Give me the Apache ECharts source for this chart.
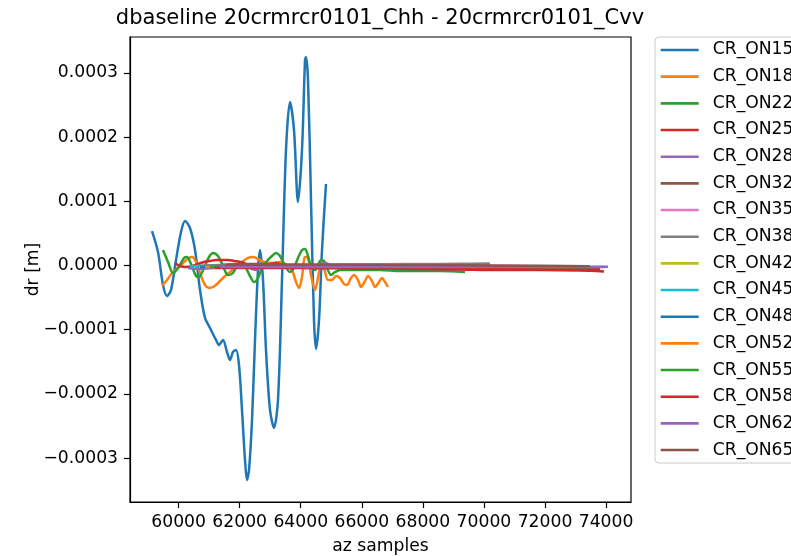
<!DOCTYPE html>
<html>
<head>
<meta charset="utf-8">
<script src="https://cdn.jsdelivr.net/npm/echarts@6/dist/echarts.min.js"></script>
<style>html,body{margin:0;padding:0;background:#fff;overflow:hidden}#c{width:791px;height:556px}</style>
</head>
<body>
<div id="c"></div>
<script>
const titleText = 'dbaseline 20crmrcr0101_Chh - 20crmrcr0101_Cvv';
const xName = 'az samples';
const yName = 'dr [m]';
const xTicks = [60000, 62000, 64000, 66000, 68000, 70000, 72000, 74000];
const yTicks = [-0.0003, -0.0002, -0.0001, 0, 0.0001, 0.0002, 0.0003];
const seriesNames = ['CR_ON15','CR_ON18','CR_ON22','CR_ON25','CR_ON28','CR_ON32','CR_ON35','CR_ON38','CR_ON42','CR_ON45','CR_ON48','CR_ON52','CR_ON55','CR_ON58','CR_ON62','CR_ON65'];
const colors = ['#1f77b4','#ff7f0e','#2ca02c','#d62728','#9467bd','#8c564b','#e377c2','#7f7f7f','#bcbd22','#17becf','#1f77b4','#ff7f0e','#2ca02c','#d62728','#9467bd','#8c564b'];

const x_on15 = [59129,59325,59489,59620,59751,59915,60079,60210,60373,60537,60701,60865,61028,61225,61323,61454,61585,61683,61782,61880,61978,62076,62175,62240,62306,62404,62502,62600,62666,62764,62862,62993,63124,63255,63386,63517,63648,63779,63910,64041,64140,64172,64238,64336,64434,64500,64598,64696,64827];
const y_on15 = [53.7e-6,21.0e-6,-30.4e-6,-47.5e-6,-38.2e-6,8.6e-6,52.2e-6,69.3e-6,58.4e-6,24.1e-6,-38.2e-6,-81.8e-6,-97.4e-6,-116.0e-6,-123.8e-6,-116.0e-6,-134.7e-6,-147.2e-6,-134.7e-6,-131.6e-6,-155.0e-6,-225.1e-6,-303.0e-6,-334.1e-6,-318.5e-6,-240.7e-6,-116.0e-6,-7.0e-6,24.1e-6,-22.6e-6,-131.6e-6,-225.1e-6,-253.1e-6,-209.5e-6,-22.6e-6,179.9e-6,254.7e-6,211.1e-6,98.9e-6,179.9e-6,320.1e-6,324.8e-6,288.9e-6,102.0e-6,-84.9e-6,-130.1e-6,-84.9e-6,24.1e-6,126.9e-6];

const x_on18 = [59456,59620,59784,59980,60177,60341,60439,60570,60734,60865,60996,61127,61290,61487,61683,61880,62076,62273,62437,62600,62797,63059,63321,63550,63714,63845,63943,64041,64140,64238,64336,64467,64565,64664,64762,64893,65024,65155,65286,65417,65515,65646,65744,65875,65974,66105,66203,66334,66432,66563,66661,66760,66858];
const y_on18 = [-31.9e-6,-22.6e-6,-11.7e-6,-3.9e-6,5.5e-6,11.7e-6,13.2e-6,5.5e-6,-16.4e-6,-30.4e-6,-35.0e-6,-33.5e-6,-27.3e-6,-17.9e-6,-10.1e-6,-2.3e-6,5.5e-6,11.7e-6,13.2e-6,10.1e-6,5.5e-6,3.9e-6,5.5e-6,0.8e-6,-7.0e-6,-25.7e-6,-35.0e-6,-17.9e-6,13.2e-6,11.7e-6,-14.8e-6,-38.2e-6,-19.5e-6,5.5e-6,-3.9e-6,-22.6e-6,-22.6e-6,-16.4e-6,-19.5e-6,-28.8e-6,-30.4e-6,-19.5e-6,-14.8e-6,-22.6e-6,-33.5e-6,-24.1e-6,-16.4e-6,-24.1e-6,-33.5e-6,-25.7e-6,-19.5e-6,-25.7e-6,-33.5e-6];

const x_on22 = [59489,59653,59817,59980,60177,60275,60406,60570,60668,60832,60996,61127,61290,61454,61618,61782,61945,62076,62207,62338,62469,62600,62731,62895,63059,63190,63321,63485,63648,63779,63910,64041,64140,64238,64336,64467,64565,64664,64762,64860,64991,65122,65286,65613,66105,66596,67251,67906,68561,69380];
const y_on22 = [24.1e-6,5.5e-6,-11.7e-6,-3.9e-6,11.7e-6,13.2e-6,2.3e-6,-16.4e-6,-17.9e-6,-3.9e-6,13.2e-6,19.5e-6,14.8e-6,-0.8e-6,-14.8e-6,-11.7e-6,2.3e-6,5.5e-6,-3.9e-6,-16.4e-6,-25.7e-6,-19.5e-6,-3.9e-6,7.0e-6,14.8e-6,19.5e-6,14.8e-6,-0.8e-6,-10.1e-6,-3.9e-6,11.7e-6,24.1e-6,25.7e-6,14.8e-6,-0.8e-6,-7.0e-6,0.8e-6,8.6e-6,7.0e-6,-3.9e-6,-14.8e-6,-10.1e-6,-7.0e-6,-7.0e-6,-7.0e-6,-7.0e-6,-8.6e-6,-8.6e-6,-8.6e-6,-10.1e-6];

const x_on25 = [59882,60046,60242,60439,60635,60832,61028,61225,61421,61618,61814,62011,62207,62404,62600,62797,62993,63190,63386,63583,63779,63976,64172,64369,64631,65286,66596,67906,69216,70526,71836,73146,73932];
const y_on25 = [3.9e-6,-0.8e-6,-2.3e-6,-0.8e-6,2.3e-6,5.5e-6,7.0e-6,8.6e-6,8.6e-6,8.6e-6,7.0e-6,5.5e-6,2.3e-6,-0.8e-6,-0.8e-6,0.8e-6,2.3e-6,3.9e-6,0.8e-6,-3.9e-6,-3.9e-6,0.8e-6,0.8e-6,-2.3e-6,-3.9e-6,-3.9e-6,-4.7e-6,-5.5e-6,-6.2e-6,-7.0e-6,-7.0e-6,-7.8e-6,-9.3e-6];

const x_on28 = [60308,60701,61192,61683,62175,62404,62535,62731,63157,63648,64303,64631,64827,65024,65450,67251,68888,70526,72491,74063];
const y_on28 = [-3.9e-6,-5.5e-6,-3.9e-6,-2.3e-6,-2.3e-6,-5.5e-6,-7.0e-6,-3.9e-6,-2.3e-6,-2.3e-6,-3.9e-6,2.3e-6,3.9e-6,-0.8e-6,-2.3e-6,-2.3e-6,-2.3e-6,-2.3e-6,-2.3e-6,-2.0e-6];

const x_on32 = [60570,61356,62011,62666,63321,63976,64631,65286,65941,66596,67906,69216,70526,71836,73146,73801];
const y_on32 = [-0.8e-6,0.8e-6,2.3e-6,2.3e-6,0.8e-6,-0.8e-6,0.8e-6,0.8e-6,0.8e-6,0.0e-6,-0.8e-6,-0.8e-6,-1.6e-6,-2.3e-6,-3.1e-6,-3.9e-6];

const x_on35 = [60701,62666,64631,66596,68561,69380];
const y_on35 = [-0.8e-6,-0.5e-6,0.8e-6,2.0e-6,2.3e-6,2.3e-6];

const x_on38 = [60865,63976,67251,70195];
const y_on38 = [-0.5e-6,0.5e-6,1.5e-6,3.0e-6];

const x_on42 = [61028,63976,67251,69871];
const y_on42 = [-2.3e-6,-0.8e-6,-0.8e-6,-1.0e-6];

const x_on45 = [60373,61028,62011,63321,64960,67906,71181];
const y_on45 = [-0.8e-6,-0.8e-6,-2.3e-6,-0.8e-6,-0.8e-6,-0.8e-6,-2.0e-6];

const x_on48 = [60701,62666,64960,68888,72491];
const y_on48 = [-2.3e-6,-0.8e-6,-0.8e-6,-2.3e-6,-2.3e-6];

const x_on52 = [60865,63321,65941,69544,72819];
const y_on52 = [-2.3e-6,-2.3e-6,-2.3e-6,-3.1e-6,-3.9e-6];

const x_on55 = [61028,63648,66596,70526,73474];
const y_on55 = [-2.3e-6,-2.3e-6,-2.3e-6,-3.9e-6,-3.9e-6];

const x_on58 = [61192,63976,67251,70526,73801];
const y_on58 = [-3.9e-6,-3.9e-6,-4.7e-6,-5.5e-6,-7.0e-6];

const x_on62 = [61356,64631,67906,71181,73965];
const y_on62 = [-2.3e-6,-2.3e-6,-2.3e-6,-2.3e-6,-2.3e-6];

const x_on65 = [61521,63976,67251,70526,73474];
const y_on65 = [0.8e-6,1.6e-6,0.8e-6,0.0e-6,-1.0e-6];

const xs = [x_on15,x_on18,x_on22,x_on25,x_on28,x_on32,x_on35,x_on38,x_on42,x_on45,x_on48,x_on52,x_on55,x_on58,x_on62,x_on65];
const ys = [y_on15,y_on18,y_on22,y_on25,y_on28,y_on32,y_on35,y_on38,y_on42,y_on45,y_on48,y_on52,y_on55,y_on58,y_on62,y_on65];

const FONT = 'DejaVu Sans';
const FS = 17.2;
const chart = echarts.init(document.getElementById('c'), null, {renderer: 'canvas'});

const series = seriesNames.map((name, i) => ({
  name: name,
  type: 'line',
  data: xs[i].map((x, j) => [x, ys[i][j]]),
  showSymbol: false,
  symbol: 'none',
  smooth: 0.3,
  color: colors[i],
  lineStyle: {width: 2.5, color: colors[i]},
  emphasis: {disabled: true}
}));

function fmtY(v) {
  if (Math.abs(v) < 1e-12) return '0.0000';
  return v.toFixed(4).replace('-', '\u2212');
}

chart.setOption({
  animation: false,
  backgroundColor: '#ffffff',
  title: {
    text: titleText,
    left: 380, top: 8, padding: 0, textAlign: 'center',
    textStyle: {fontFamily: FONT, fontSize: 21, fontWeight: 'normal', color: '#000'}
  },
  legend: {
    orient: 'vertical',
    left: 655, top: 37,
    padding: [4.5, 60, 4.5, 5.7],
    itemGap: 9.67,
    itemWidth: 38, itemHeight: 2.6,
    icon: 'rect',
    selectedMode: false,
    data: seriesNames,
    borderColor: '#cccccc', borderWidth: 1, borderRadius: 4,
    backgroundColor: 'rgba(255,255,255,0.8)',
    textStyle: {fontFamily: FONT, fontSize: FS, color: '#000', lineHeight: 17, padding: [0, 0, 0, 9]}
  },
  grid: {
    left: 130, right: 160, top: 37, bottom: 54,
    outerBoundsMode: 'none',
    containLabel: false,
    show: true, borderColor: '#000', borderWidth: 1.2, backgroundColor: 'transparent'
  },
  xAxis: {
    type: 'value', min: 58408, max: 74816,
    name: xName, nameLocation: 'middle', nameGap: 36, nameMoveOverlap: false,
    nameTextStyle: {fontFamily: FONT, fontSize: FS, color: '#000'},
    axisLine: {show: true, onZero: false, lineStyle: {color: '#000', width: 1.2}},
    axisTick: {show: true, length: 6, customValues: xTicks, lineStyle: {color: '#000', width: 1.2}},
    axisLabel: {customValues: xTicks, margin: 12, fontFamily: FONT, fontSize: FS, color: '#000', formatter: v => String(v)},
    splitLine: {show: false}
  },
  yAxis: {
    type: 'value', min: -0.0003684, max: 0.0003559,
    name: yName, nameLocation: 'middle', nameGap: 88, nameMoveOverlap: false,
    nameTextStyle: {fontFamily: FONT, fontSize: FS, color: '#000'},
    axisLine: {show: true, onZero: false, lineStyle: {color: '#000', width: 1.2}},
    axisTick: {show: true, length: 6, customValues: yTicks, lineStyle: {color: '#000', width: 1.2}},
    axisLabel: {customValues: yTicks, margin: 12, fontFamily: FONT, fontSize: FS, color: '#000', formatter: fmtY},
    splitLine: {show: false}
  },
  series: series
});
</script>
</body>
</html>
